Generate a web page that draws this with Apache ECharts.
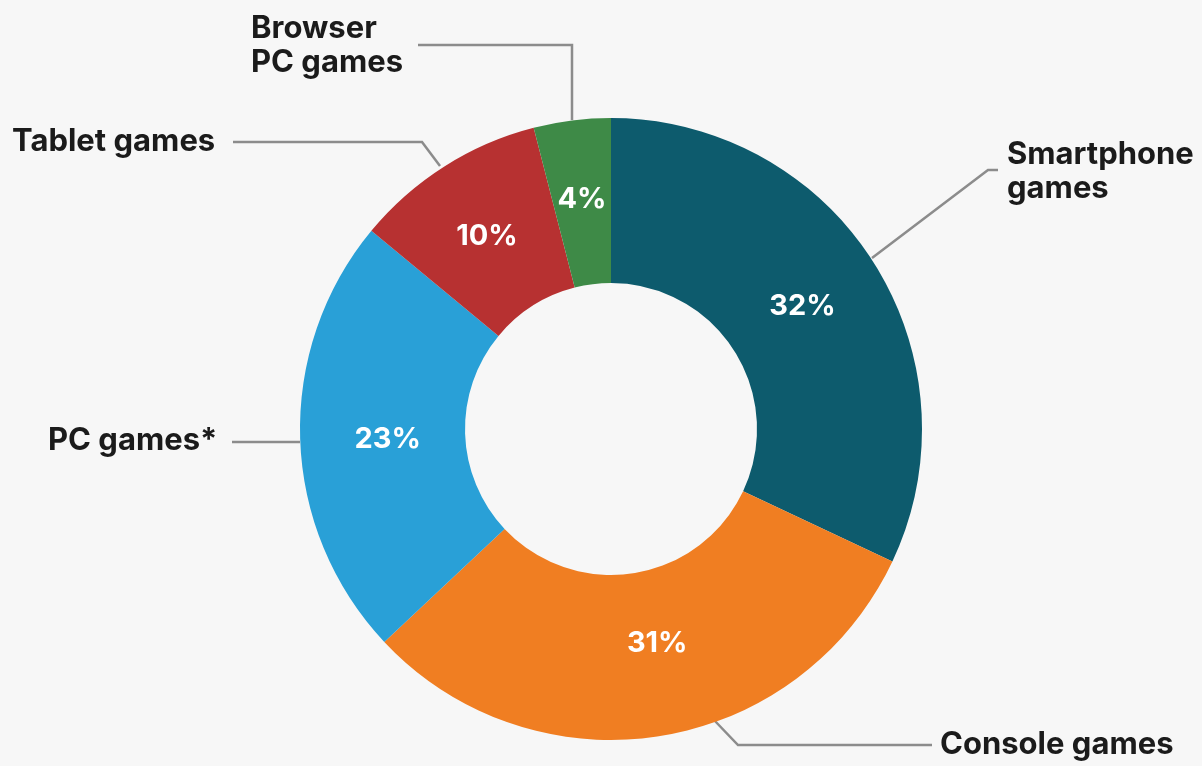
<!DOCTYPE html>
<html>
<head>
<meta charset="utf-8">
<script src="https://cdn.jsdelivr.net/npm/echarts@6/dist/echarts.min.js"></script>
<style>
html,body{margin:0;padding:0;background:#f7f7f7;}
#main{width:1202px;height:766px;}
</style>
</head>
<body>
<div id="main"></div>
<script>
const categories = ['Smartphone\ngames', 'Console games', 'PC games*', 'Tablet games', 'Browser\nPC games'];
const shares = [32, 31, 23, 10, 4];
const colors = ['#0d5b6d', '#f07e22', '#29a0d7', '#b73131', '#3e8a47'];

// label placement (style only): left x, vertical centre y, leader polyline
const labelPos = [
  { x: 1007, y: 172, line: [[872, 258], [988, 170], [998, 170]] },
  { x: 940, y: 745, line: [[714, 720], [738, 745], [932, 745]] },
  { x: 48, y: 441, line: [[300, 442], [266, 442], [232, 442]] },
  { x: 12, y: 142, line: [[440, 166], [422, 142], [233, 142]] },
  { x: 251, y: 46, line: [[572, 120], [572, 45], [418, 45]] }
];
const innerShift = [[-4, 1], [10, -14], [8, 3], [0, 3], [0, 0]];

const pieData = categories.map((c, i) => ({ name: c, value: shares[i], itemStyle: { color: colors[i] } }));
const FONT = 'Inter, Roboto, sans-serif';

const chart = echarts.init(document.getElementById('main'), null, { renderer: 'canvas' });
chart.setOption({
  backgroundColor: '#f7f7f7',
  animation: false,
  series: [
    {
      type: 'pie',
      center: [611, 429],
      radius: [146, 311],
      startAngle: 90,
      clockwise: true,
      avoidLabelOverlap: false,
      data: pieData,
      itemStyle: { borderWidth: 0 },
      label: {
        show: true,
        position: 'inside',
        formatter: '{c}%',
        color: '#ffffff',
        fontFamily: FONT,
        fontWeight: 'bold',
        fontSize: 29
      },
      labelLine: { show: false },
      labelLayout: function (params) {
        const s = innerShift[params.dataIndex];
        return { dx: s[0], dy: s[1] };
      },
      silent: true
    },
    {
      type: 'pie',
      center: [611, 429],
      radius: [146, 311],
      startAngle: 90,
      clockwise: true,
      avoidLabelOverlap: false,
      silent: true,
      data: pieData.map(d => ({ name: d.name, value: d.value })),
      itemStyle: { color: 'rgba(0,0,0,0)', borderWidth: 0 },
      label: {
        show: true,
        position: 'outside',
        formatter: '{b}',
        color: '#1b1b1b',
        fontFamily: FONT,
        fontWeight: 'bold',
        fontSize: 31,
        lineHeight: 34,
        align: 'left'
      },
      labelLine: {
        show: true,
        lineStyle: { color: '#8c8c8c', width: 2.5 }
      },
      labelLayout: function (params) {
        const p = labelPos[params.dataIndex];
        return {
          x: p.x,
          y: p.y,
          align: 'left',
          verticalAlign: 'middle',
          labelLinePoints: p.line
        };
      }
    }
  ]
});
</script>
</body>
</html>
